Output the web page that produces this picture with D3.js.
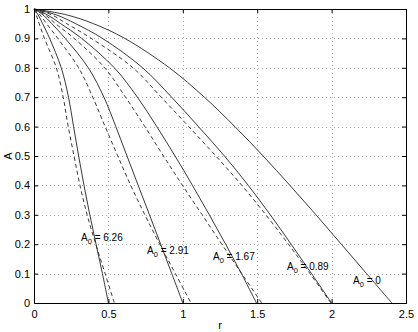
<!DOCTYPE html>
<html>
<head>
<meta charset="utf-8">
<script src="https://cdn.jsdelivr.net/npm/d3@7"></script>
<style>
  body { margin: 0; background: #fff; }
  svg { display: block; font-family: "Liberation Sans", Arial, Helvetica, sans-serif; }
</style>
</head>
<body>
<div id="chart"></div>
<script>
const aLevels = [1, 0.98, 0.95, 0.9, 0.8, 0.7, 0.6, 0.5, 0.4, 0.3, 0.2, 0.1, 0];

// solid curves (one per A0)
const solid626 = [0, 0.028, 0.058, 0.105, 0.183, 0.232, 0.266, 0.30, 0.336, 0.375, 0.417, 0.46, 0.50];
const solid291 = [0, 0.06, 0.12, 0.21, 0.365, 0.47, 0.55, 0.625, 0.70, 0.776, 0.851, 0.926, 1.0];
const solid167 = [0, 0.09, 0.18, 0.32, 0.54, 0.695, 0.825, 0.948, 1.065, 1.178, 1.288, 1.394, 1.495];
const solid089 = [0, 0.15, 0.28, 0.46, 0.73, 0.925, 1.105, 1.28, 1.44, 1.588, 1.728, 1.865, 2.0];
const solid000 = [0, 0.22, 0.40, 0.61, 0.91, 1.145, 1.35, 1.54, 1.72, 1.895, 2.065, 2.235, 2.405];

// dashed curves
const dashed626 = [0, 0.015, 0.035, 0.07, 0.15, 0.196, 0.23, 0.269, 0.309, 0.357, 0.415, 0.478, 0.54];
const dashed291 = [0, 0.04, 0.085, 0.16, 0.30, 0.395, 0.478, 0.563, 0.65, 0.745, 0.845, 0.95, 1.055];
const dashed167 = [0, 0.075, 0.145, 0.27, 0.475, 0.615, 0.745, 0.87, 0.998, 1.13, 1.262, 1.396, 1.53];
const dashed089 = [0, 0.12, 0.22, 0.385, 0.665, 0.855, 1.04, 1.222, 1.397, 1.558, 1.71, 1.855, 1.995];

const solidCurves = [solid626, solid291, solid167, solid089, solid000];
const dashedCurves = [dashed626, dashed291, dashed167, dashed089];

const xTicks = [0, 0.5, 1, 1.5, 2, 2.5];
const yTicks = [0, 0.1, 0.2, 0.3, 0.4, 0.5, 0.6, 0.7, 0.8, 0.9, 1];

// curve labels: A0 value and where the text sits (r, A)
const labelValues = ['6.26', '2.91', '1.67', '0.89', '0'];
const labelR = [0.316, 0.76, 1.203, 1.70, 2.144];
const labelA = [0.211, 0.167, 0.146, 0.112, 0.065];

const W = 418;
const H = 332;
const margin = { top: 9, right: 12, bottom: 29, left: 34 };
const width = W - margin.left - margin.right;
const height = H - margin.top - margin.bottom;

const x = d3.scaleLinear().domain([0, 2.5]).range([0, width]);
const y = d3.scaleLinear().domain([0, 1]).range([height, 0]);

const svg = d3.select('#chart').append('svg')
  .attr('width', W)
  .attr('height', H);

svg.append('rect').attr('width', W).attr('height', H).attr('fill', '#fff');

const g = svg.append('g')
  .attr('transform', `translate(${margin.left},${margin.top})`);

// dotted grid
const grid = g.append('g').attr('class', 'grid');

grid.selectAll('line.gx')
  .data(xTicks.slice(1, -1))
  .enter().append('line')
    .attr('class', 'gx')
    .attr('x1', d => Math.round(x(d)) + 0.5)
    .attr('x2', d => Math.round(x(d)) + 0.5)
    .attr('y1', 0)
    .attr('y2', height)
    .attr('stroke', '#aaa')
    .attr('stroke-dasharray', '1,3');

grid.selectAll('line.gy')
  .data(yTicks.slice(1, -1))
  .enter().append('line')
    .attr('class', 'gy')
    .attr('x1', 0)
    .attr('x2', width)
    .attr('y1', d => Math.round(y(d)) + 0.5)
    .attr('y2', d => Math.round(y(d)) + 0.5)
    .attr('stroke', '#aaa')
    .attr('stroke-dasharray', '1,3');

// curves
const line = d3.line()
  .x(d => x(d.r))
  .y(d => y(d.a))
  .curve(d3.curveCatmullRom.alpha(0.5));

const toPoints = rs => rs.map((r, i) => ({ r, a: aLevels[i] }));

g.selectAll('.solid')
  .data(solidCurves)
  .enter().append('path')
    .attr('class', 'solid')
    .attr('d', d => line(toPoints(d)))
    .attr('fill', 'none')
    .attr('stroke', '#222')
    .attr('stroke-width', 0.9);

g.selectAll('.dashed')
  .data(dashedCurves)
  .enter().append('path')
    .attr('class', 'dashed')
    .attr('d', d => line(toPoints(d)))
    .attr('fill', 'none')
    .attr('stroke', '#222')
    .attr('stroke-width', 0.9)
    .attr('stroke-dasharray', '4,3');

// axes with inward ticks (matlab style), on all four sides
const tickLen = 4;
g.append('g')
    .attr('class', 'axis axis--x')
    .attr('transform', `translate(0,${height})`)
    .call(d3.axisBottom(x).tickValues(xTicks).tickSizeInner(-tickLen).tickSizeOuter(0).tickPadding(7)
      .tickFormat(d3.format('')));

g.append('g')
    .attr('class', 'axis axis--x-top')
    .call(d3.axisTop(x).tickValues(xTicks).tickSizeInner(-tickLen).tickSizeOuter(0).tickFormat(''));

g.append('g')
    .attr('class', 'axis axis--y')
    .call(d3.axisLeft(y).tickValues(yTicks).tickSizeInner(-tickLen).tickSizeOuter(0).tickPadding(4)
      .tickFormat(d3.format('')));

g.append('g')
    .attr('class', 'axis axis--y-right')
    .attr('transform', `translate(${width},0)`)
    .call(d3.axisRight(y).tickValues(yTicks).tickSizeInner(-tickLen).tickSizeOuter(0).tickFormat(''));

g.selectAll('.axis path').attr('stroke', '#000');
g.selectAll('.axis line').attr('stroke', '#000');
g.selectAll('.axis text')
  .attr('font-size', '11px')
  .attr('fill', '#000')
  .attr('font-family', '"Liberation Sans", Arial, Helvetica, sans-serif');

// box
g.append('rect')
  .attr('x', 0.5)
  .attr('y', 0.5)
  .attr('width', width)
  .attr('height', height)
  .attr('fill', 'none')
  .attr('stroke', '#000');

// axis titles
svg.append('text')
  .attr('x', margin.left + width / 2)
  .attr('y', 329)
  .attr('text-anchor', 'middle')
  .attr('font-size', '11px')
  .text('r');

svg.append('text')
  .attr('transform', `translate(12,${margin.top + height / 2}) rotate(-90)`)
  .attr('text-anchor', 'middle')
  .attr('font-size', '11px')
  .text('A');

// curve labels
const labels = g.selectAll('.curve-label')
  .data(labelValues)
  .enter().append('text')
    .attr('class', 'curve-label')
    .attr('x', (d, i) => x(labelR[i]))
    .attr('y', (d, i) => y(labelA[i]))
    .attr('font-size', '10px');

labels.append('tspan').text('A');
labels.append('tspan').attr('font-size', '7.5px').attr('dy', 3).text('0');
labels.append('tspan').attr('dy', -3).text(d => ` = ${d}`);
</script>
</body>
</html>
